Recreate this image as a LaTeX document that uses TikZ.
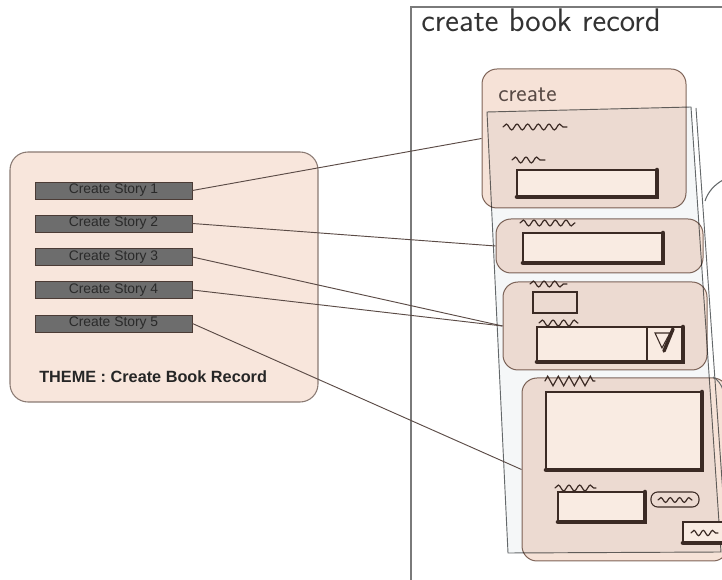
\documentclass[tikz,border=0pt]{standalone}
\usepackage{fontspec}
\newfontfamily\arialish{Liberation Sans}
\usetikzlibrary{decorations.pathmorphing}

\definecolor{themefill}{HTML}{F8E6DC}
\definecolor{themeline}{HTML}{8A7A73}
\definecolor{barfill}{HTML}{6D6D6D}
\definecolor{barline}{HTML}{4B3B35}
\definecolor{bartext}{HTML}{2A2A2A}
\definecolor{cardfill}{HTML}{F6E2D7}
\definecolor{cardline}{HTML}{836D63}
\definecolor{sheetfill}{HTML}{F5F7F8}
\definecolor{sheetline}{HTML}{64686A}
\definecolor{framecol}{HTML}{7A7A7A}
\definecolor{ink}{HTML}{3B2A24}
\definecolor{fieldfill}{HTML}{F9EBE2}
\definecolor{linkcol}{HTML}{5B4B46}
\definecolor{handink}{HTML}{333333}

% a hand-drawn input field: thin top/left, heavy bottom/right
\newcommand\sketchfield[4]{%
  \fill[fieldfill] (#1,#2) rectangle (#3,#4);
  \draw[ink, line width=0.8pt] (#3,#4) -- (#1,#4) -- (#1,#2) -- (#3,#2);
  \draw[ink, line width=3.4pt, line cap=round] (#1,#4) -- (#3,#4) -- (#3,#2);
}

\begin{document}
\begin{tikzpicture}[x=0.75pt,y=-0.75pt,
  themebox/.style={draw=themeline, fill=themefill, line width=0.8pt,
    rounded corners=13.5pt, minimum width=231pt, minimum height=187.5pt, inner sep=0pt},
  storybar/.style={draw=barline, fill=barfill, line width=0.6pt,
    minimum width=117.75pt, minimum height=12.75pt, inner sep=0pt,
    font=\arialish\fontsize{10.4}{11}\selectfont, text=bartext},
  card/.style={draw=cardline, fill=cardfill, line width=0.75pt,
    rounded corners=11.25pt, inner sep=0pt},
  link/.style={draw=linkcol, line width=0.7pt},
  squiggle/.style={draw=ink, line width=0.9pt, line cap=round, decorate,
    decoration={snake, amplitude=2.2pt, segment length=8pt}},
  zigzag/.style={draw=ink, line width=0.9pt, line cap=round, decorate,
    decoration={zigzag, amplitude=3.6pt, segment length=8pt}},
  hand/.style={font=\sffamily, text=handink, inner sep=0pt}
]
\clip (0,0) rectangle (722,580);
\fill[white] (0,0) rectangle (722,580);

% ---- theme panel with its stories ----
\node[themebox] (theme) at (164,277) {};
\node[storybar] (s1) at (113.5,190.5) {Create Story 1};
\node[storybar] (s2) at (113.5,223.5) {Create Story 2};
\node[storybar] (s3) at (113.5,257) {Create Story 3};
\node[storybar] (s4) at (113.5,290) {Create Story 4};
\node[storybar] (s5) at (113.5,323.5) {Create Story 5};
\node[anchor=base west, inner sep=0pt, font=\arialish\bfseries\fontsize{12.2}{14}\selectfont,
  text=black!85] (themetitle) at (39,383) {THEME : Create Book Record};

% ---- sketch page ----
\draw[framecol, line width=0.9pt] (411,600) -- (411,7) -- (740,7);
\node[hand, anchor=base west, font=\sffamily\fontsize{24.5}{26}\selectfont] (pagetitle)
  at (421,32) {create book record};

% paper sheet behind the cards
\filldraw[fill=sheetfill, draw=sheetline, line width=0.7pt]
  (487,112) -- (691,107) -- (721,552) -- (508,553) -- cycle;
\draw[sheetline, line width=0.7pt] (696,108) -- (727,552);

% cards
\begin{scope}[blend mode=multiply]
\node[card, minimum width=153pt, minimum height=104.25pt] (c1) at (584,138.5) {};
\node[card, minimum width=155.25pt, minimum height=40.5pt] (c2) at (599.5,246) {};
\node[card, minimum width=153pt, minimum height=66pt] (c3) at (605,326) {};
\node[card, minimum width=154.5pt, minimum height=137.25pt] (c4) at (625,469.5) {};
\end{scope}

% card 1: create
\node[hand, anchor=base west, font=\sffamily\fontsize{18.5}{20}\selectfont, text=ink!85] (c1title)
  at (498,102) {create};
\draw[squiggle] (503,127) -- (567,127);
\draw[squiggle] (512,160) -- (545,160);
\sketchfield{517}{170}{657}{197}

% card 2
\draw[squiggle] (520,223) -- (575,223);
\sketchfield{523}{233}{663}{263}

% card 3
\draw[squiggle] (530,284) -- (567,284);
\draw[ink, line width=0.8pt] (533,292) rectangle (577,313);
\draw[squiggle] (539,323) -- (578,323);
\sketchfield{537}{327}{683}{362}
\draw[ink, line width=0.8pt] (647,327) -- (647,362);
\draw[ink, line width=0.8pt] (655,333) -- (670,333) -- (662,348) -- cycle;
\draw[ink, line width=2.6pt, line cap=round] (673,329) -- (664,351);

% card 4
\draw[zigzag] (545,381) -- (595,381);
\sketchfield{546}{392}{702}{470}
\draw[squiggle] (555,488) -- (596,488);
\sketchfield{558}{492}{645}{522}
\draw[ink, line width=0.8pt, rounded corners=5pt] (651,492) rectangle (699,507);
\draw[squiggle, decoration={snake, amplitude=1.8pt, segment length=7pt}] (658,500) -- (692,500);
\sketchfield{683}{522}{728}{543}
\draw[squiggle, decoration={snake, amplitude=2pt, segment length=7pt}] (691,533) -- (718,533);

% loose pencil strokes at the right edge
\draw[sheetline, line width=0.8pt] (705,201) .. controls (708,192) and (714,185) .. (723,180);
\draw[sheetline, line width=0.7pt] (713,377) .. controls (718,380) and (721,384) .. (723,390);

% ---- story links ----
\draw[link] (s1.east) -- (c1.west);
\draw[link] (s2.east) -- (c2.west);
\draw[link] (s3.east) -- (c3.west);
\draw[link] (s4.east) -- (c3.west);
\draw[link] (s5.east) -- (c4.west);
\end{tikzpicture}
\end{document}
